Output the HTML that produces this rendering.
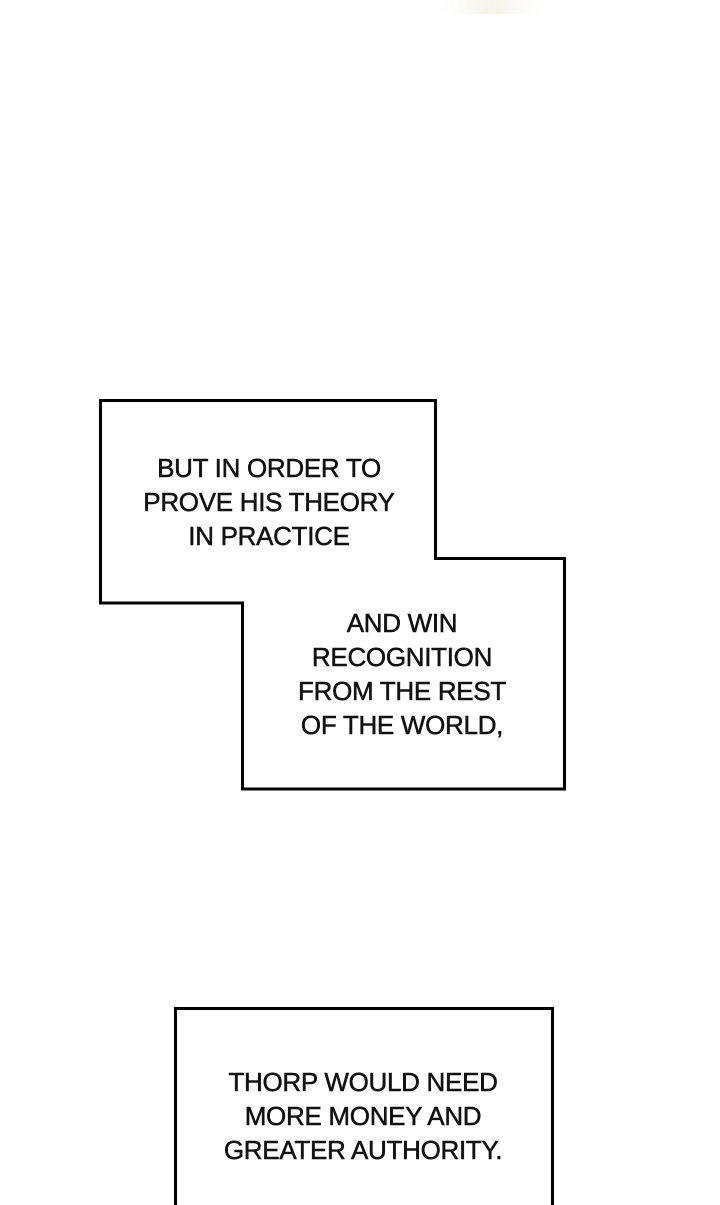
<html><head><style>
body{margin:0;width:720px;height:1205px;background:#fff;overflow:hidden;position:relative;font-family:"Liberation Sans",sans-serif}
.t{position:absolute;text-align:center;font-size:26px;line-height:34px;color:#111;letter-spacing:-0.3px;-webkit-text-stroke:0.5px #111}
</style></head><body>
<div style="position:absolute;left:440px;top:0;width:105px;height:14px;background:linear-gradient(90deg,#fff,#f6f3ea,#fff)"></div>
<svg width="720" height="1205" style="position:absolute;left:0;top:0">
<polygon points="100.5,400.5 435.5,400.5 435.5,558.5 564.5,558.5 564.5,789 242.5,789 242.5,603 100.5,603" fill="#fff" stroke="#000" stroke-width="3"/>
<rect x="175.5" y="1008.5" width="377" height="210" fill="#fff" stroke="#000" stroke-width="3"/>
</svg>
<div class="t" style="left:119px;width:300px;top:451px">BUT IN ORDER TO<br>PROVE HIS THEORY<br>IN PRACTICE</div>
<div class="t" style="left:252px;width:300px;top:606px">AND WIN<br>RECOGNITION<br>FROM THE REST<br>OF THE WORLD,</div>
<div class="t" style="left:213px;width:300px;top:1065px">THORP WOULD NEED<br>MORE MONEY AND<br>GREATER AUTHORITY.</div>
</body></html>
